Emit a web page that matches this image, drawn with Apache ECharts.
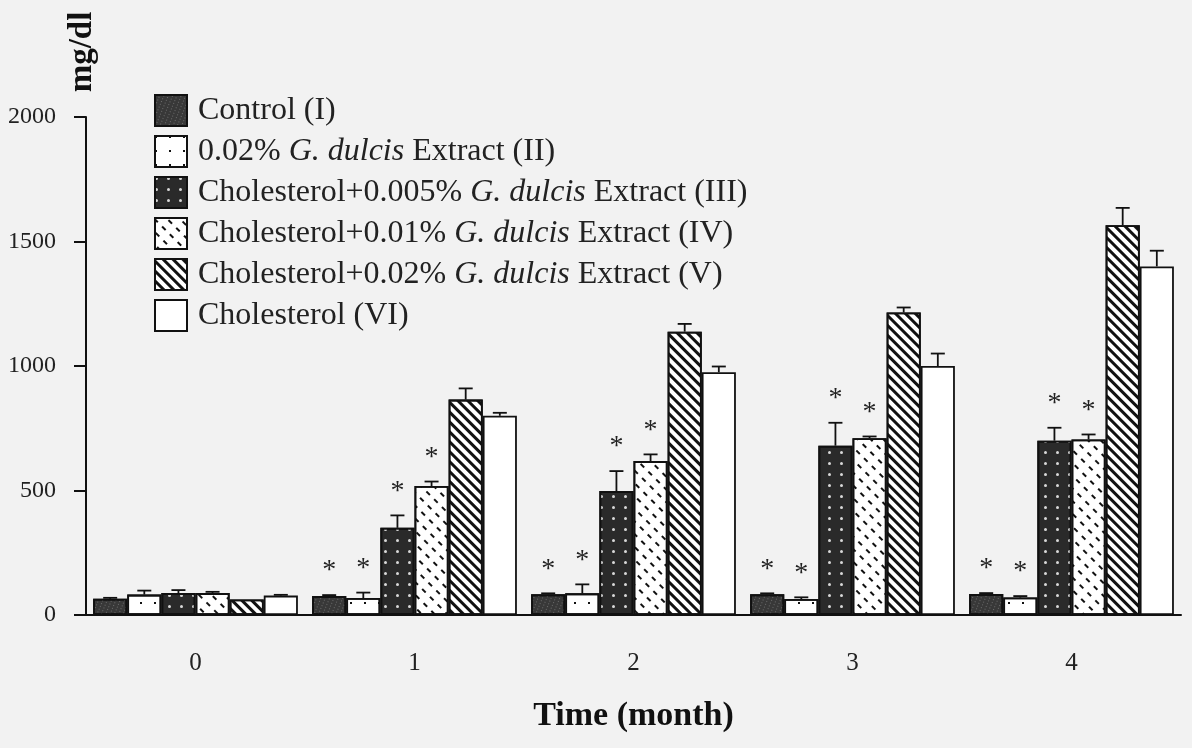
<!DOCTYPE html>
<html>
<head>
<meta charset="utf-8">
<script src="https://cdn.jsdelivr.net/npm/echarts@6/dist/echarts.min.js"></script>
<style>
  html, body { margin: 0; padding: 0; background: #f2f2f2; }
  #main { width: 1192px; height: 748px; }
</style>
</head>
<body>
<div id="main"></div>
<script>
const months = ['0', '1', '2', '3', '4']
const yTicks = [0, 500, 1000, 1500, 2000]
const seriesNames = [
  'Control (I)',
  '0.02% G. dulcis Extract (II)',
  'Cholesterol+0.005% G. dulcis Extract (III)',
  'Cholesterol+0.01% G. dulcis Extract (IV)',
  'Cholesterol+0.02% G. dulcis Extract (V)',
  'Cholesterol (VI)'
]
// mean values, mg/dl
const control = [65, 76, 83, 83, 84]
const extract002 = [82, 68, 87, 64, 70]
const chol0005 = [88, 350, 498, 680, 700]
const chol001 = [88, 518, 618, 710, 705]
const chol002 = [62, 865, 1138, 1215, 1565]
const cholOnly = [78, 800, 975, 1000, 1400]
// upper error bars
const controlErr = [4, 4, 4, 4, 4]
const extract002Err = [16, 22, 36, 7, 6]
const chol0005Err = [12, 50, 80, 92, 52]
const chol001Err = [5, 18, 27, 7, 20]
const chol002Err = [0, 45, 31, 20, 70]
const cholOnlyErr = [3, 12, 23, 50, 63]
// significance marks (*)
const controlSig = [0, 1, 1, 1, 1]
const extract002Sig = [0, 1, 1, 1, 1]
const chol0005Sig = [0, 1, 1, 1, 1]
const chol001Sig = [0, 1, 1, 1, 1]
const chol002Sig = [0, 0, 0, 0, 0]
const cholOnlySig = [0, 0, 0, 0, 0]

const values = [control, extract002, chol0005, chol001, chol002, cholOnly]
const errors = [controlErr, extract002Err, chol0005Err, chol001Err, chol002Err, cholOnlyErr]
const sigs = [controlSig, extract002Sig, chol0005Sig, chol001Sig, chol002Sig, cholOnlySig]

const font = 'Liberation Serif'
const catGap = 0.065

const styles = [
  { color: '#383838', decal: { symbol: 'rect', symbolSize: 1, color: 'rgba(130,130,130,0.7)', dashArrayX: [1, 3], dashArrayY: [1, 2], rotation: 0.4 } },
  { color: '#ffffff', decal: { symbol: 'rect', symbolSize: 1, color: '#111', dashArrayX: [2, 12], dashArrayY: [2, 12] } },
  { color: '#2a2a2a', decal: { symbol: 'circle', symbolSize: 1, color: '#d8d8d8', dashArrayX: [3, 9], dashArrayY: [3, 8] } },
  { color: '#ffffff', decal: { symbol: 'rect', symbolSize: 1, color: '#111', dashArrayX: [5, 6], dashArrayY: [1.5, 7], rotation: Math.PI / 4 } },
  { color: '#ffffff', decal: { symbol: 'rect', symbolSize: 1, color: '#111', dashArrayX: [1, 0], dashArrayY: [3, 4], rotation: Math.PI / 4 } },
  { color: '#ffffff', decal: null }
]

const barSeries = seriesNames.map(function (name, i) {
  return {
    name: name,
    type: 'bar',
    data: values[i],
    barGap: '0%',
    barCategoryGap: (catGap * 100) + '%',
    itemStyle: {
      color: styles[i].color,
      decal: styles[i].decal,
      borderColor: '#111',
      borderWidth: 1.8
    }
  }
})

const errData = []
values.forEach(function (arr, s) {
  arr.forEach(function (v, c) {
    errData.push([c, s, v, errors[s][c], sigs[s][c]])
  })
})

const errSeries = {
  type: 'custom',
  z: 5,
  silent: true,
  encode: { x: 0, y: 2 },
  data: errData,
  renderItem: function (params, api) {
    const cat = api.value(0)
    const s = api.value(1)
    const v = api.value(2)
    const err = api.value(3)
    const sig = api.value(4)
    const band = api.size([1, 0])[0]
    const bw = band * (1 - catGap) / seriesNames.length
    const cx = api.coord([cat, 0])[0] + (s - (seriesNames.length - 1) / 2) * bw
    const top = api.coord([cat, v])[1]
    const errTop = api.coord([cat, v + err])[1]
    const children = []
    if (err > 0) {
      children.push({ type: 'line', shape: { x1: cx, y1: top, x2: cx, y2: errTop }, style: { stroke: '#111', lineWidth: 1.8 } })
      children.push({ type: 'line', shape: { x1: cx - 7, y1: errTop, x2: cx + 7, y2: errTop }, style: { stroke: '#111', lineWidth: 1.8 } })
    }
    if (sig) {
      children.push({
        type: 'text',
        style: { text: '*', x: cx, y: errTop - 24, align: 'center', verticalAlign: 'middle', fill: '#222', font: '28px "Liberation Serif"' }
      })
    }
    return { type: 'group', children: children }
  }
}

const chart = echarts.init(document.getElementById('main'))
chart.setOption({
  backgroundColor: '#f2f2f2',
  animation: false,
  grid: { left: 86, right: 11, top: 117, bottom: 133, outerBoundsMode: 'none' },
  legend: {
    data: seriesNames,
    orient: 'vertical',
    left: 154,
    top: 94,
    padding: 0,
    itemWidth: 32,
    itemHeight: 31,
    itemGap: 8,
    icon: 'rect',
    formatter: function (name) {
      return name.replace('G. dulcis', '{i|G. dulcis}')
    },
    textStyle: {
      fontFamily: font,
      fontSize: 32,
      color: '#222',
      padding: [0, 0, 0, 6],
      rich: { i: { fontFamily: font, fontSize: 32, fontStyle: 'italic', color: '#222' } }
    }
  },
  xAxis: {
    type: 'category',
    data: months,
    axisLine: { lineStyle: { color: '#111', width: 2 } },
    axisTick: { show: false },
    axisLabel: { fontFamily: font, fontSize: 25, color: '#222', margin: 36 },
    name: 'Time (month)',
    nameLocation: 'middle',
    nameGap: 84,
    nameTextStyle: { fontFamily: font, fontSize: 34, fontWeight: 'bold', color: '#111' }
  },
  yAxis: {
    type: 'value',
    min: yTicks[0],
    max: yTicks[yTicks.length - 1],
    interval: yTicks[1] - yTicks[0],
    splitLine: { show: false },
    axisLine: { show: true, lineStyle: { color: '#111', width: 2 } },
    axisTick: { show: true, length: 12, lineStyle: { color: '#111', width: 2 } },
    axisLabel: {
      fontFamily: font, fontSize: 24, color: '#222', margin: 30,
      formatter: function (v) { return String(v) }
    }
  },
  graphic: [{
    type: 'text',
    x: 82,
    y: 52,
    rotation: Math.PI / 2,
    style: { text: 'mg/dl', align: 'center', verticalAlign: 'middle', fill: '#111', font: 'bold 33px "Liberation Serif"' }
  }],
  series: barSeries.concat([errSeries])
})
</script>
</body>
</html>
